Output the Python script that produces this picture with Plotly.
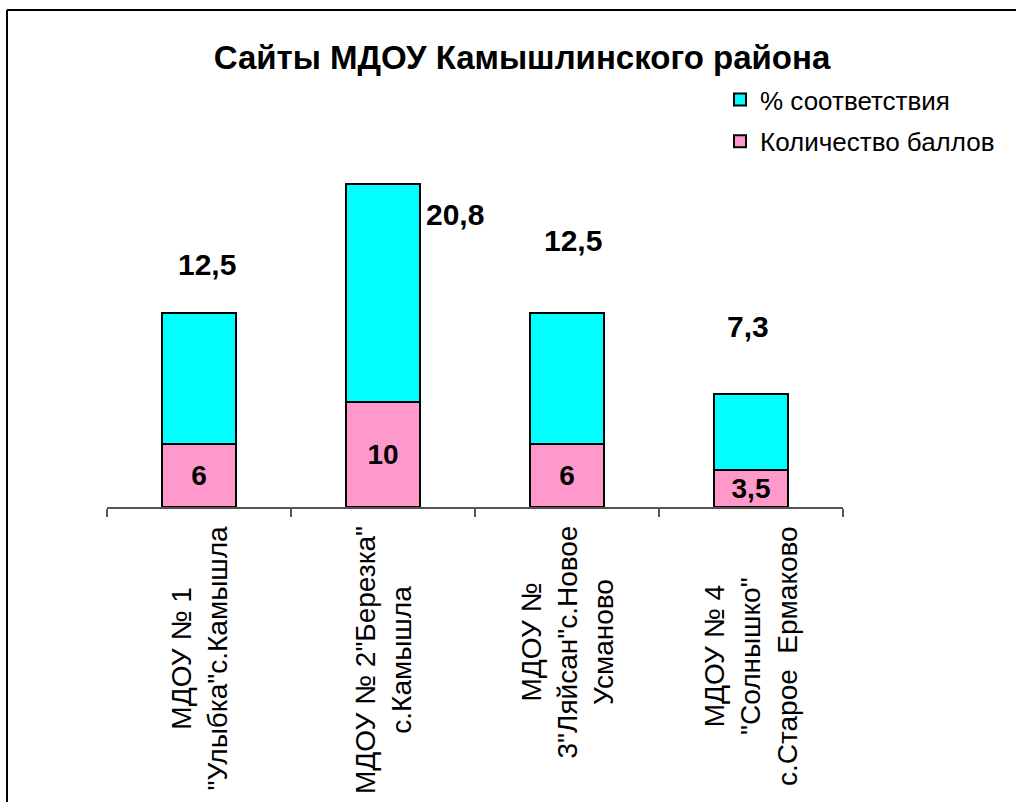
import plotly.graph_objects as go

# ---- data ----
categories = [
    "МДОУ № 1<br>\"Улыбка\"с.Камышла",
    "МДОУ № 2\"Березка\"<br>с.Камышла",
    "МДОУ №<br>3\"Ляйсан\"с.Новое<br>Усманово",
    "МДОУ № 4<br>\"Солнышко\"<br>с.Старое  Ермаково",
]
cat_keys = ["c1", "c2", "c3", "c4"]
points = [6, 10, 6, 3.5]            # Количество баллов
percent = [12.5, 20.8, 12.5, 7.3]   # % соответствия
series_names = ["Количество баллов", "% соответствия"]
title_text = "Сайты МДОУ Камышлинского района"

# ---- style (label offsets in px, not data) ----
label_offsets = [(8, 48), (72, -31), (6, 72), (-3, 67)]
FONT = "Arial, Liberation Sans, sans-serif"

def fmt(v):
    return ("%g" % v).replace(".", ",")

# body margin is removed by post_script, so screen coords = figure coords
W, H = 1016, 802
L, T = 107, 171
pw, ph = 736, 336
R, B = W - L - pw, H - T - ph

def px(sx):
    return (sx - L) / pw

def py(sy):
    return (H - B - sy) / ph

fig = go.Figure()
fig.add_trace(go.Bar(
    x=cat_keys, y=points, name=series_names[0], legendgroup="a", legendrank=2,
    marker=dict(color="#FF99CC", line=dict(color="black", width=2)),
    text=[fmt(v) for v in points], textposition="inside",
    insidetextanchor="middle", constraintext="none", textangle=0,
    textfont=dict(family=FONT, size=28, color="black", weight="bold"),
    width=0.4,
))
fig.add_trace(go.Bar(
    x=cat_keys, y=percent, name=series_names[1], legendgroup="b", legendrank=1,
    marker=dict(color="#00FFFF", line=dict(color="black", width=2)),
    width=0.4,
))

annotations = []
for k, p, q, (dx, dy) in zip(cat_keys, points, percent, label_offsets):
    annotations.append(dict(
        x=k, y=p + q, xref="x", yref="y", text=fmt(q), showarrow=False,
        xanchor="center", yanchor="middle", xshift=dx, yshift=dy,
        font=dict(family=FONT, size=30, color="black", weight="bold"),
    ))
for k, c in zip(cat_keys, categories):
    annotations.append(dict(
        x=k, y=0, xref="x", yref="paper", text=c, showarrow=False,
        textangle=-90, align="center", xanchor="center", yanchor="top",
        yshift=-17, font=dict(family=FONT, size=28, color="black"),
    ))

shapes = [
    dict(type="line", xref="paper", yref="paper", x0=px(7), x1=px(1040),
         y0=py(10), y1=py(10), line=dict(color="black", width=2)),
    dict(type="line", xref="paper", yref="paper", x0=px(7), x1=px(7),
         y0=py(10), y1=py(840), line=dict(color="black", width=2)),
]

fig.update_layout(
    width=W, height=H,
    margin=dict(l=L, r=R, t=T, b=B, autoexpand=False),
    barmode="stack",
    separators=", ",
    plot_bgcolor="white", paper_bgcolor="white",
    font=dict(family=FONT, color="black"),
    title=dict(text="<b>" + title_text + "</b>", x=522 / W,
               y=1 - 57 / H, xanchor="center", yanchor="middle",
               font=dict(family=FONT, size=33, color="black")),
    xaxis=dict(range=[-0.5, 3.5], showline=True, linecolor="#555555",
               linewidth=2, ticks="outside", ticklen=8, tickcolor="#555555",
               tickwidth=2, tickson="boundaries", showticklabels=False,
               showgrid=False, zeroline=False, fixedrange=True),
    yaxis=dict(range=[0, 32], visible=False, fixedrange=True),
    legend=dict(x=px(720), y=py(76), xanchor="left", yanchor="top",
                traceorder="grouped", tracegroupgap=5,
                itemwidth=30,
                font=dict(family=FONT, size=26, color="black"),
                bgcolor="rgba(0,0,0,0)"),
    annotations=annotations,
    shapes=shapes,
    showlegend=True,
)

fig.write_html(
    "out.html",
    config={"displayModeBar": False},
    post_script="document.body.style.margin='0';document.body.style.overflow='hidden';",
)
